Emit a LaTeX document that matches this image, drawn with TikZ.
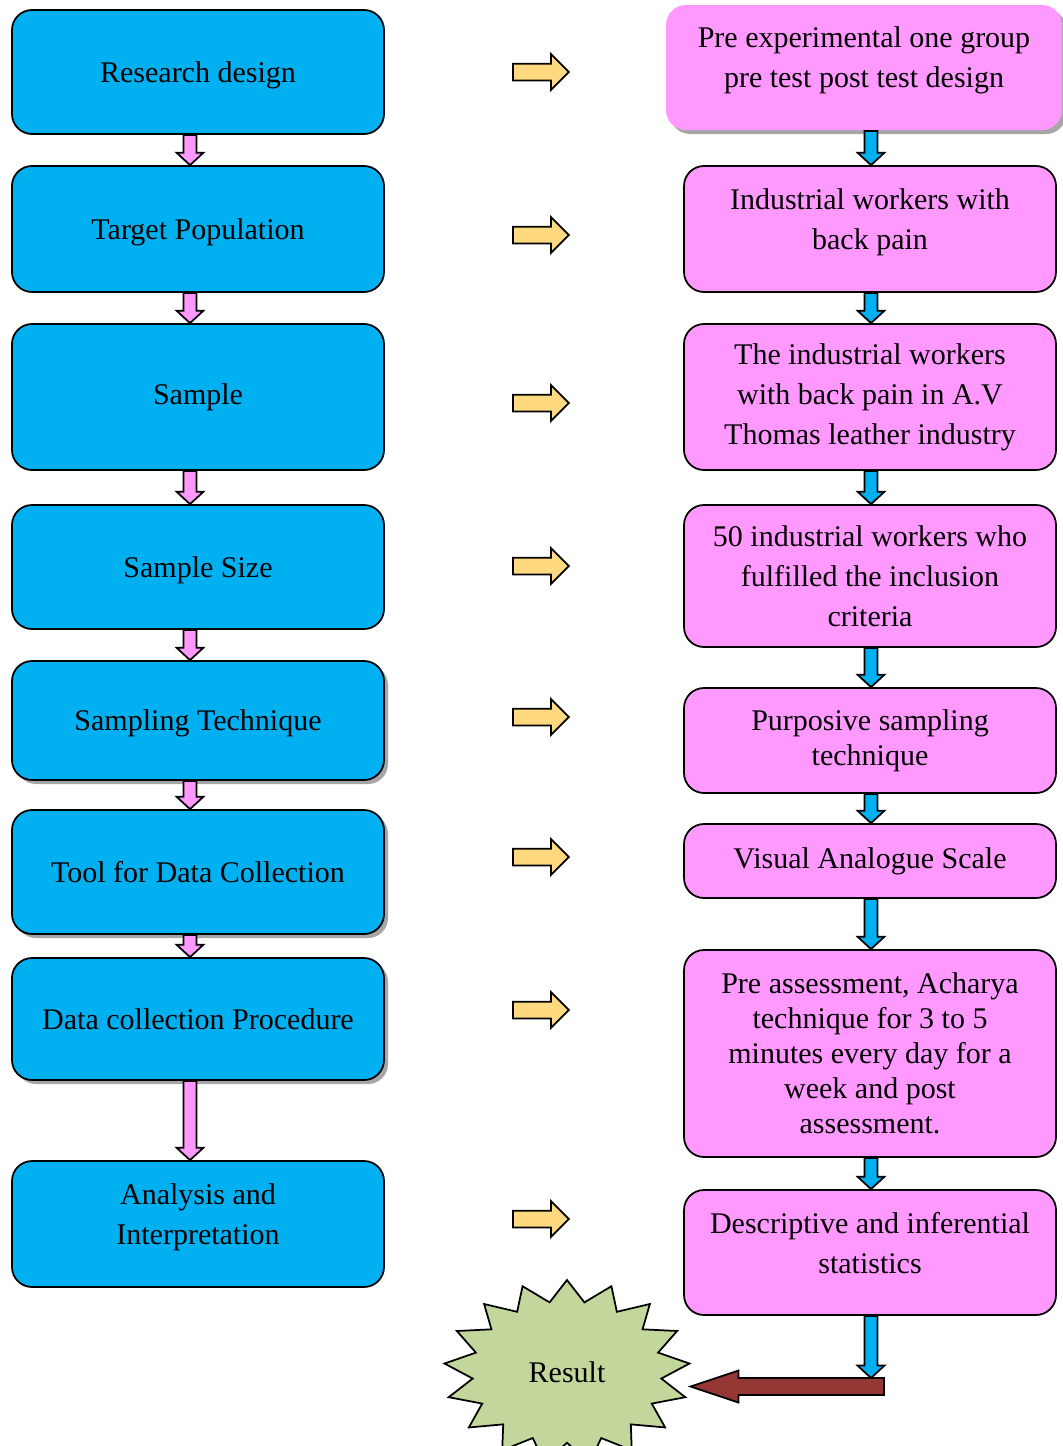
\documentclass[tikz,border=0pt]{standalone}
\usepackage{fontspec}
\setmainfont{Liberation Serif}
\usetikzlibrary{calc,shapes.arrows,shadows}
\definecolor{boxblue}{RGB}{0,176,240}
\definecolor{boxpink}{RGB}{255,153,255}
\definecolor{arrowgold}{RGB}{255,217,128}
\definecolor{stargreen}{RGB}{195,214,155}
\definecolor{arrowbrown}{RGB}{149,55,53}
\newlength\pxu \setlength\pxu{0.4pt}
\tikzset{
  stepbox/.style={draw, line width=0.7pt, rounded corners=8pt, minimum width=372\pxu,
    align=center, inner sep=2pt, font=\fontsize{12}{16}\selectfont},
  leftbox/.style={stepbox, fill=boxblue},
  rightbox/.style={stepbox, fill=boxpink},
  oneline/.style={text depth=0pt},
  raised/.style={text depth=8pt},
  boxshadow/.style={drop shadow={shadow xshift=1.6pt, shadow yshift=-1.6pt, fill=gray!70, opacity=1}},
  goldarrow/.style={single arrow, draw, line width=0.7pt, fill=arrowgold, inner xsep=0pt,
    inner ysep=7.5\pxu, minimum height=56\pxu, single arrow head extend=9.5\pxu,
    single arrow tip angle=90, anchor=tail},
  downblock/.style={draw, line width=0.7pt, fill=#1, to path={let \p1=(\tikztostart), \p2=(\tikztotarget) in
    (\x1-2.6pt,\y1) -- (\x1-2.6pt,\y2+5pt) -- (\x1-5.4pt,\y2+5pt) -- (\x1,\y2)
    -- (\x1+5.4pt,\y2+5pt) -- (\x1+2.6pt,\y2+5pt) -- (\x1+2.6pt,\y1) -- cycle}},
  leftblock/.style={draw, line width=0.7pt, fill=arrowbrown, to path={let \p1=(\tikztostart), \p2=(\tikztotarget) in
    (\x1,\y1-3.4pt) -- (\x2+19.2pt,\y1-3.4pt) -- (\x2+19.2pt,\y1-6.4pt) -- (\x2,\y1)
    -- (\x2+19.2pt,\y1+6.4pt) -- (\x2+19.2pt,\y1+3.4pt) -- (\x1,\y1+3.4pt) -- cycle}},
}
\begin{document}
\begin{tikzpicture}[x=1\pxu, y=-1\pxu]
\useasboundingbox (0,0) rectangle (1062,1446);

% steps
\node[leftbox, oneline, minimum height=124\pxu] (l1) at (198,72) {Research design};
\node[leftbox, oneline, minimum height=126\pxu] (l2) at (198,229) {Target Population};
\node[leftbox, minimum height=146\pxu] (l3) at (198,397) {Sample};
\node[leftbox, oneline, minimum height=124\pxu] (l4) at (198,567) {Sample Size};
\node[leftbox, oneline, boxshadow, minimum height=119\pxu] (l5) at (198,720.5) {Sampling Technique};
\node[leftbox, boxshadow, minimum height=124\pxu] (l6) at (198,872) {Tool for Data Collection};
\node[leftbox, oneline, boxshadow, minimum height=122\pxu] (l7) at (198,1019) {Data collection Procedure};
\node[leftbox, raised, minimum height=126\pxu] (l8) at (198,1224) {Analysis and\\Interpretation};

% what was done
\node[rightbox, raised, draw=none, boxshadow, minimum width=396\pxu, minimum height=125\pxu] (r1) at (864,67.5)
  {Pre experimental one group\\pre test post test design};
\node[rightbox, raised, minimum height=126\pxu] (r2) at (870,229) {Industrial workers with\\back pain};
\node[rightbox, minimum height=146\pxu] (r3) at (870,397)
  {The industrial workers\\with back pain in A.V\\Thomas leather industry};
\node[rightbox, minimum height=142\pxu] (r4) at (870,576)
  {50 industrial workers who\\fulfilled the inclusion\\criteria};
\node[rightbox, minimum height=105\pxu, font=\fontsize{12}{14}\selectfont] (r5) at (870,740.5)
  {Purposive sampling\\technique};
\node[rightbox, minimum height=74\pxu] (r6) at (870,861) {Visual Analogue Scale};
\node[rightbox, minimum height=207\pxu, font=\fontsize{12}{14}\selectfont] (r7) at (870,1053.5)
  {Pre assessment, Acharya\\technique for 3 to 5\\minutes every day for a\\week and post\\assessment.};
\node[rightbox, raised, minimum height=125\pxu] (r8) at (870,1252.5)
  {Descriptive and inferential\\statistics};

% arrows in between
\foreach \y [count=\i] in {72,235,403,566,717,857,1010,1219}
  \node[goldarrow] (g\i) at (512,\y) {};

\foreach \a/\b in {l1/l2,l2/l3,l3/l4,l4/l5,l5/l6,l6/l7,l7/l8}
  \draw[downblock=boxpink] ([xshift=-8\pxu]\a.south) to (\b.north);
\foreach \a/\b in {r1/r2,r2/r3,r3/r4,r4/r5,r5/r6,r6/r7,r7/r8}
  \draw[downblock=boxblue] ([xshift=1\pxu]\a.south -| \b.north) to (\b.north);

% result
\draw[line width=0.7pt, fill=stargreen] (567,1280)
  \foreach \i in {1,...,33} { -- ({567+123*(mod(\i,2)==0 ? 1 : 0.77)*cos(90+\i*360/34)},
                                 {1372-92*(mod(\i,2)==0 ? 1 : 0.77)*sin(90+\i*360/34)}) } -- cycle;
\node[minimum width=246\pxu, minimum height=184\pxu, font=\fontsize{12}{16}\selectfont] (result) at (567,1372) {Result};

\coordinate (turn) at (884,1386.5);
\draw[downblock=boxblue] ([xshift=1\pxu]r8.south) to ([yshift=3.4pt]r8.south |- turn);
\draw[leftblock] (turn) to (turn -| result.east);
\end{tikzpicture}
\end{document}
